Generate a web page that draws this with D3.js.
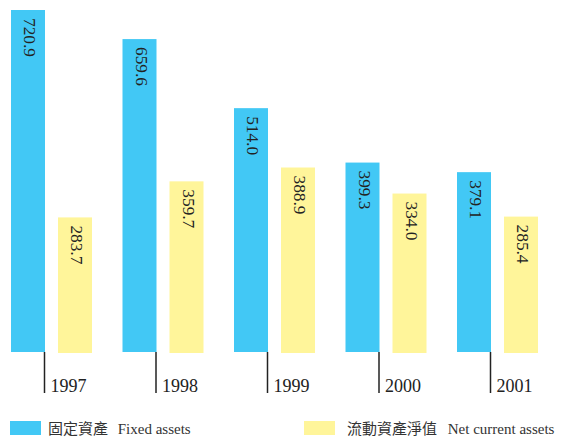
<!DOCTYPE html>
<html><head><meta charset="utf-8">
<script src="https://cdn.jsdelivr.net/npm/d3@7"></script>
<style>body{margin:0;background:#fff}
svg text{font-family:"Liberation Serif","Times New Roman","Noto Sans CJK TC",serif;}
</style>
</head><body>
<svg id="c" width="563" height="440"></svg>
<script>
const years = ["1997","1998","1999","2000","2001"];
const fixedAssets = [720.9, 659.6, 514.0, 399.3, 379.1];
const netCurrentAssets = [283.7, 359.7, 388.9, 334.0, 285.4];
const seriesCn = ["固定資產", "流動資產淨值"];
const seriesEn = ["Fixed assets", "Net current assets"];
const colors = ["#42C8F5", "#FFF59A"];

const svg = d3.select("#c");
const baseY = 352;
const y = d3.scaleLinear().domain([0, 720.9]).range([baseY, 10]);
const x = d3.scaleBand().domain(years).range([11, 568.5]).paddingInner(0).paddingOuter(0);
const barW = 34, off2 = 47;

const series = [fixedAssets, netCurrentAssets];
series.forEach((vals, si) => {
  const g = svg.append("g");
  g.selectAll("rect").data(vals).join("rect")
    .attr("x", (d,i) => x(years[i]) + si*off2)
    .attr("y", d => y(d))
    .attr("width", barW)
    .attr("height", d => baseY - y(d) + (si===1?1:0))
    .attr("fill", colors[si]);
  g.selectAll("text").data(vals).join("text")
    .attr("transform", (d,i) => `translate(${x(years[i]) + si*off2 + barW/2 + 1.5},${y(d)+8}) rotate(90)`)
    .attr("dominant-baseline", "central")
    .attr("font-size", 17.3).attr("fill", "#222")
    .text(d => d.toFixed(1));
});

// axis ticks and labels
const ax = svg.append("g");
ax.selectAll("line").data(years).join("line")
  .attr("x1", d => x(d) + barW - 0.5).attr("x2", d => x(d) + barW - 0.5)
  .attr("y1", baseY).attr("y2", 393)
  .attr("stroke", "#222").attr("stroke-width", 1.5);
ax.selectAll("text").data(years).join("text")
  .attr("x", d => x(d) + barW + 5.5).attr("y", 392)
  .attr("font-size", 18).attr("fill", "#222")
  .text(d => d);

// legend
const legX = [10, 304];
const lg = svg.append("g");
seriesCn.forEach((n, i) => {
  lg.append("rect").attr("x", legX[i]).attr("y", 421).attr("width", 31).attr("height", 14).attr("fill", colors[i]);
  const t = lg.append("text").attr("x", legX[i] + 38 + (i===1?5:0)).attr("y", 434)
    .attr("font-size", 15).attr("fill", "#333");
  t.append("tspan").text(n);
  t.append("tspan").attr("dx", i===0 ? 6 : 7).text(" " + seriesEn[i]);
});
</script>
</body></html>
